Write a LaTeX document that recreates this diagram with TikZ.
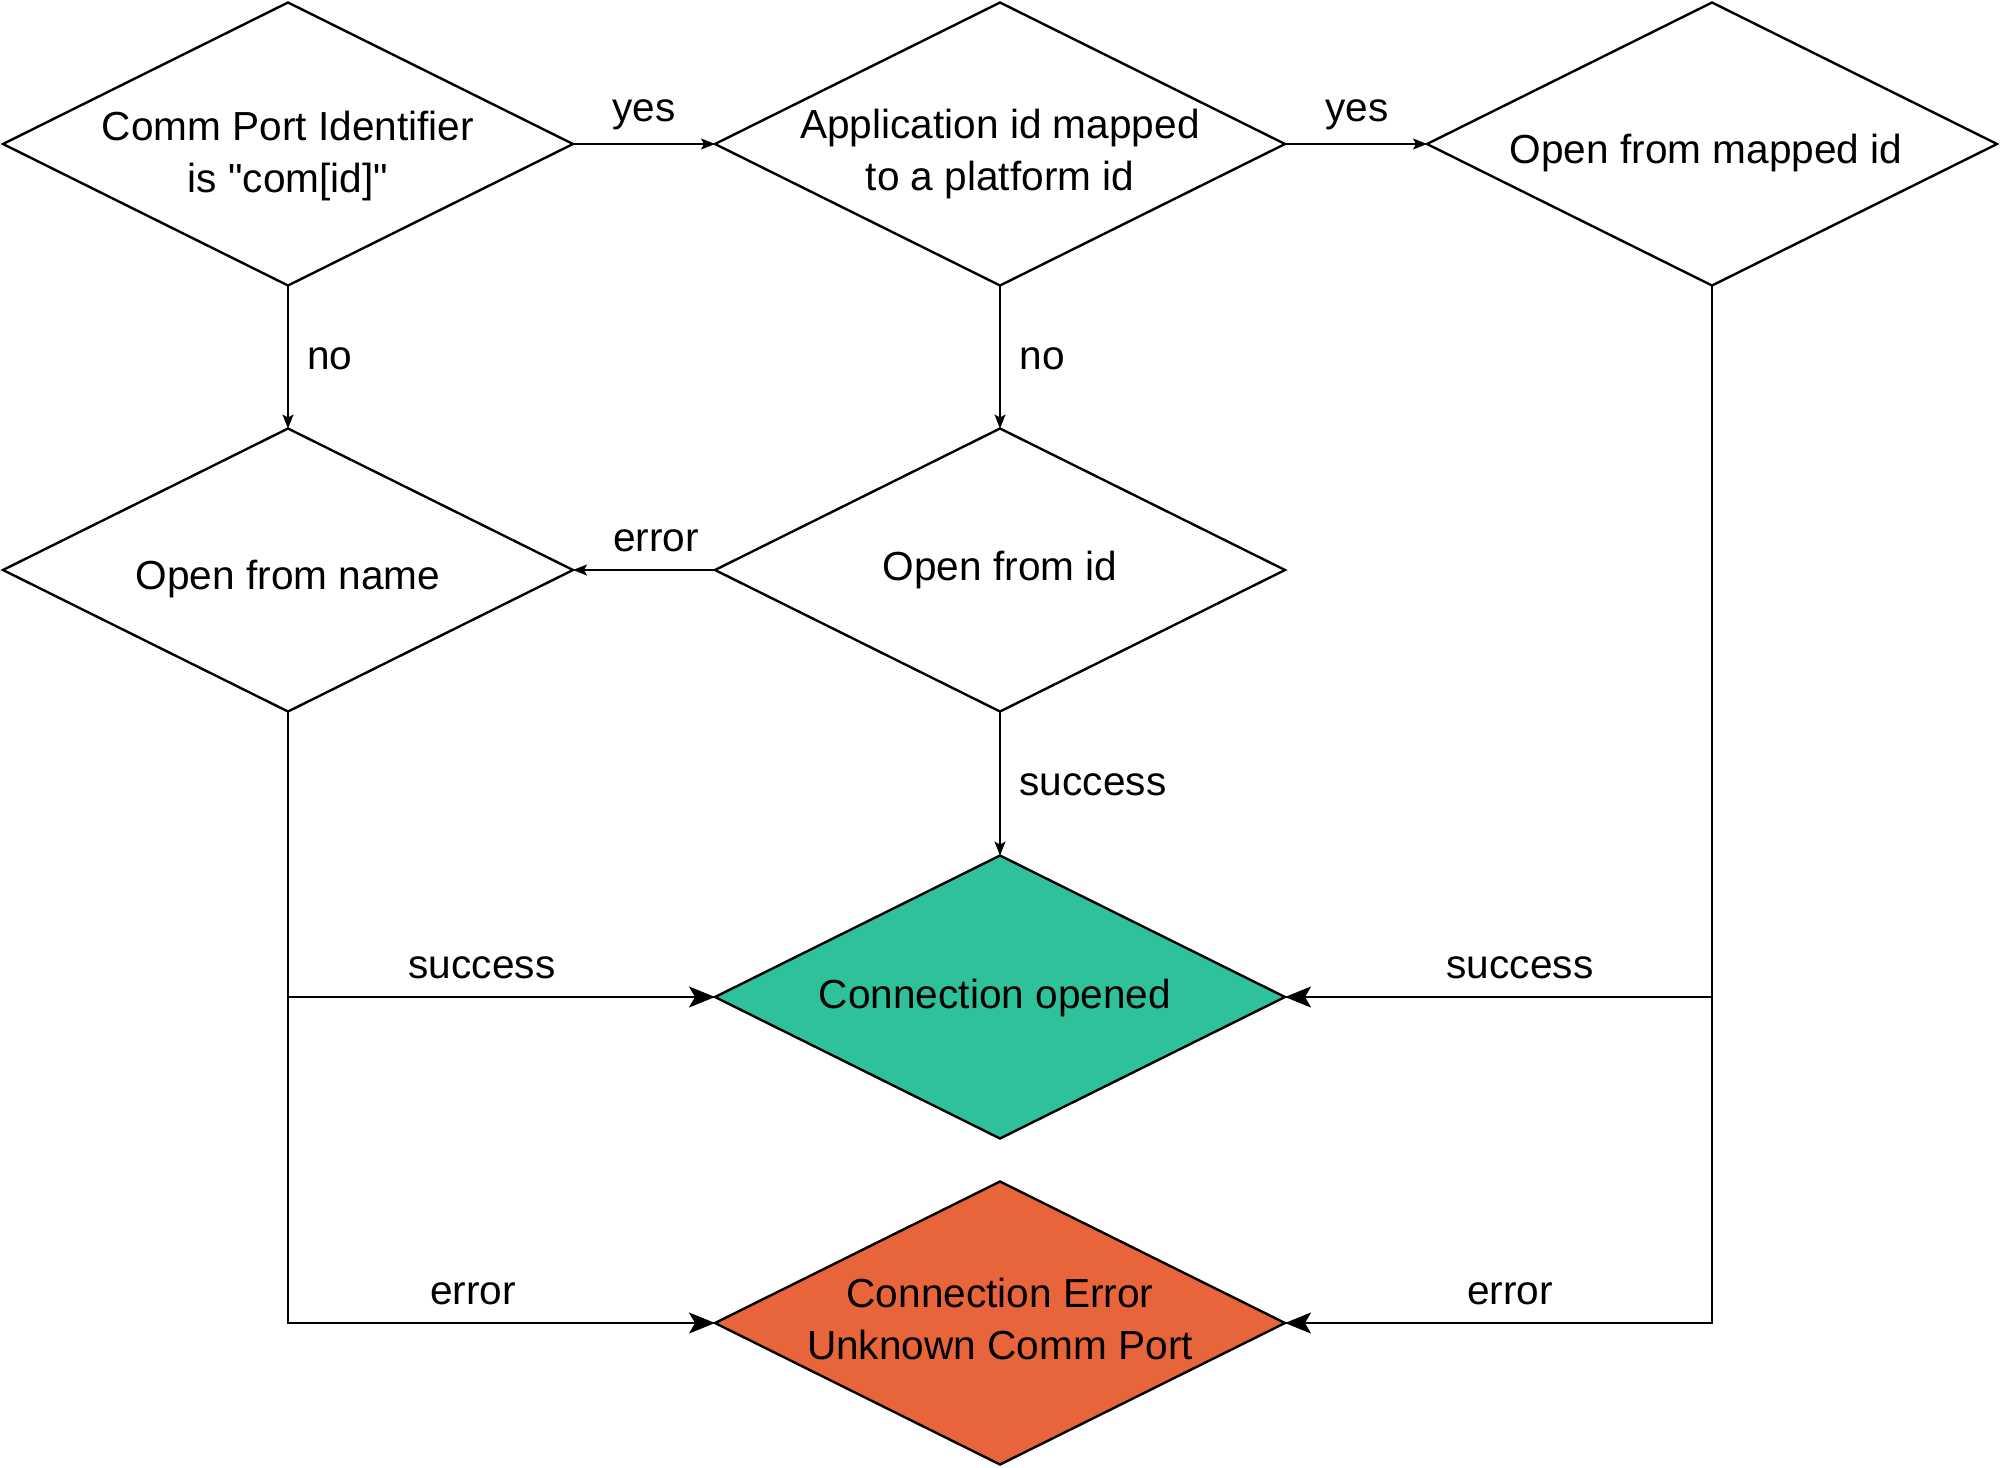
\documentclass[tikz,border=0pt]{standalone}
\usepackage{fontspec}
\setmainfont{Liberation Sans}[Ligatures=TeXOff]
\usetikzlibrary{shapes.geometric,arrows.meta}
\definecolor{okgreen}{RGB}{47,193,155}
\definecolor{errorange}{RGB}{232,100,58}
\tikzset{
  dia/.style={diamond, draw=black, line width=1.2pt, minimum width=285pt, minimum height=141.5pt, inner sep=0pt, outer sep=0pt},
  txt/.style={font=\fontsize{20.3pt}{26pt}\selectfont, align=center, inner sep=0pt},
  thinarrow/.style={draw=black, line width=0.65pt, -{Stealth[length=7pt,width=5.5pt,inset=1.5pt]}},
  thickarrow/.style={draw=black, line width=1.1pt, -{Stealth[length=13pt,width=10.5pt,inset=3pt]}}
}
\begin{document}
\begin{tikzpicture}[x=0.5pt,y=-0.5pt]
\useasboundingbox (0,0) rectangle (2000,1467);
% diamonds
\node[dia] (d1) at (288,144) {};
\node[dia] (d2) at (1000,144) {};
\node[dia] (d3) at (1712,144) {};
\node[dia] (d4) at (288,570) {};
\node[dia] (d5) at (1000,570) {};
\node[dia, fill=okgreen] (d6) at (1000,997) {};
\node[dia, fill=errorange] (d7) at (1000,1323) {};
% diamond texts
\node[txt] (t1) at (288,156) {Comm Port Identifier\\is "com[id]"};
\node[txt] (t2) at (1000,154) {Application id mapped\\to a platform id};
\node[txt] (t3) at (1706,153) {Open from mapped id};
\node[txt] (t4) at (288,579) {Open from name};
\node[txt] (t5) at (1000,570) {Open from id};
\node[txt] (t6) at (995,998) {Connection opened};
\node[txt] (t7) at (1000,1319) {Connection Error\\Unknown Comm Port};
% connectors
\draw[thinarrow] (d1.east) -- (d2.west);
\draw[thinarrow] (d2.east) -- (d3.west);
\draw[thinarrow] (d1.south) -- (d4.north);
\draw[thinarrow] (d2.south) -- (d5.north);
\draw[thinarrow] (d5.west) -- (d4.east);
\draw[thinarrow] (d5.south) -- (d6.north);
\draw[thickarrow] (d4.south) |- (d7.west);
\draw[thickarrow] (d4.south |- d6.west) -- (d6.west);
\draw[thickarrow] (d3.south) |- (d7.east);
\draw[thickarrow] (d3.south |- d6.east) -- (d6.east);
% connector labels
\node[txt] (l1) at (644,115) {yes};
\node[txt] (l2) at (1357,115) {yes};
\node[txt] (l3) at (330,359) {no};
\node[txt] (l4) at (1042,359) {no};
\node[txt] (l5) at (656,541) {error};
\node[txt] (l6) at (1093,785) {success};
\node[txt] (l7) at (482,968) {success};
\node[txt] (l8) at (473,1294) {error};
\node[txt] (l9) at (1520,968) {success};
\node[txt] (l10) at (1510,1294) {error};
\end{tikzpicture}
\end{document}
